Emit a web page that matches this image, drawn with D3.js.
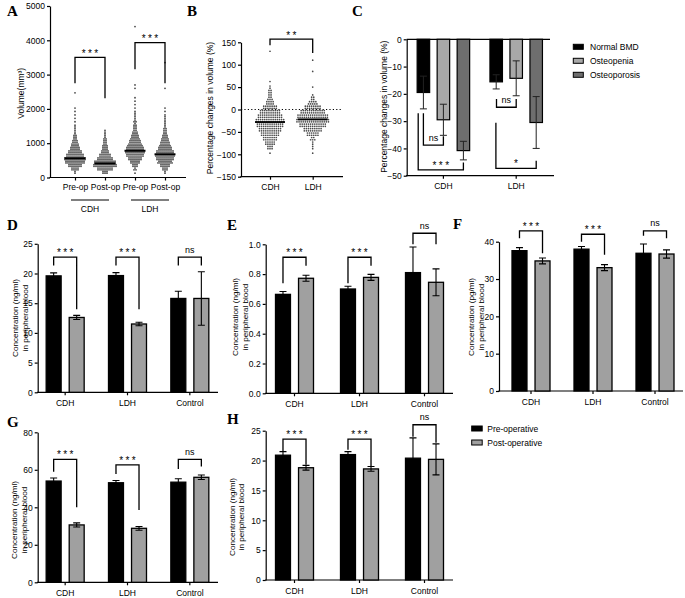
<!DOCTYPE html>
<html><head><meta charset="utf-8">
<script src="https://cdn.jsdelivr.net/npm/d3@7"></script>
<style>
body{margin:0;background:#fff}
svg{display:block}
</style></head><body>
<svg id="c" width="685" height="598"></svg>
<script>
// ================= DATA =================
// Panel A: volume (mm3); dot clouds read as counts per 100-mm3 bin (bin 0 = 0-100) plus sparse outliers
const aCategories = ["Pre-op", "Post-op", "Pre-op", "Post-op"];
const aGroups = ["CDH", "LDH"];
const aCdhPreCounts  = [0,2,8,14,20,22,18,14,10,8,6,4,3,2,2,1,1,1,1,1,1];
const aCdhPostCounts = [0,6,16,24,22,16,12,8,6,5,4,3,2,2];
const aLdhPreCounts  = [0,1,3,6,10,14,18,20,18,15,12,9,7,5,4,3,3,2,2,1,1,1,1,1];
const aLdhPostCounts = [0,2,6,10,15,18,20,18,14,11,9,7,5,4,3,2,2,2,1,1,1];
const aCdhPreOutliers = [2470];
const aCdhPostOutliers = [];
const aLdhPreOutliers = [2600, 2700, 4400];
const aLdhPostOutliers = [2600, 3350];
const aMedians = [560, 410, 780, 675];
const aSigLabels = ["***", "***"];
const aSigLevels = [[3500, 2745, 2310], [3930, 3155, 2745]]; // [bar level, left leg end, right leg end]
const aTicks = [0, 1000, 2000, 3000, 4000, 5000];

// Panel B: percentage change; counts per 10% bin starting at -100
const bCategories = ["CDH", "LDH"];
const bCdhCounts = [1,6,10,14,18,22,26,28,24,20,14,8,5,4,3,1,1];
const bLdhCounts = [1,2,2,5,12,18,26,32,30,24,16,9,4,1];
const bCdhOutliers = [130];
const bLdhOutliers = [50, 85, 110];
const bMedians = [-28, -22];
const bSigLabel = "**";
const bSigLevel = [157, 143.5, 126];
const bTicks = [-150, -100, -50, 0, 50, 100, 150];

// Panel C: percentage change by bone status
const cGroups = ["CDH", "LDH"];
const cSeries = ["Normal BMD", "Osteopenia", "Osteoporosis"];
const cNormal = [-19.5, -15.6];
const cNormalErr = [6.0, 2.6];
const cOsteopenia = [-29.5, -14.3];
const cOsteopeniaErr = [5.7, 6.4];
const cOsteoporosis = [-40.8, -30.5];
const cOsteoporosisErr = [3.4, 9.5];
const cSigLabels = ["ns", "***", "ns", "*"];
const cSigGroups = ["CDH", "CDH", "LDH", "LDH"];
const cSigPairs = [[0, 1], [0, 2], [0, 1], [0, 2]];
const cSigLevels = [[-38.8, -27.1, -35.5], [-47.9, -27.1, -45.2], [-24.9, -21.9, -21.9], [-47.3, -30.6, -44.5]];
const cTicks = [0, -10, -20, -30, -40, -50];

// Panels D-H: blood concentrations, pre vs post
const barGroups = ["CDH", "LDH", "Control"];
const barSeries = ["Pre-operative", "Post-operative"];
const barSigLabels = ["***", "***", "ns"];

const dPre = [19.6, 19.65, 15.8];   const dPreErr = [0.5, 0.5, 1.2];
const dPost = [12.6, 11.5, 15.8];   const dPostErr = [0.35, 0.3, 4.5];
const dSig = [[22.75, 21.35, 14.0], [22.75, 21.35, 14.0], [22.75, 21.35, 21.35]];
const dTicks = [0, 5, 10, 15, 20, 25];

const ePre = [0.664, 0.70, 0.81];   const ePreErr = [0.019, 0.018, 0.172];
const ePost = [0.772, 0.778, 0.745]; const ePostErr = [0.02, 0.02, 0.09];
const eSig = [[0.913, 0.738, 0.856], [0.913, 0.738, 0.856], [1.074, 1.0, 1.0]];
const eTicks = [0, 0.2, 0.4, 0.6, 0.8, 1.0];

const fPre = [37.6, 38.0, 36.9];    const fPreErr = [0.8, 0.7, 2.5];
const fPost = [34.85, 33.05, 36.7]; const fPostErr = [0.8, 0.8, 1.1];
const fSig = [[42.9, 40.9, 36.9], [42.0, 40.0, 36.5], [42.9, 41.6, 40.9]];
const fTicks = [0, 10, 20, 30, 40];

const gPre = [54.0, 53.1, 53.4];    const gPreErr = [1.6, 1.2, 1.8];
const gPost = [30.6, 28.8, 56.0];   const gPostErr = [1.1, 1.0, 1.2];
const gSig = [[65.6, 59.0, 40.0], [62.6, 57.8, 38.6], [65.6, 60.4, 61.7]];
const gTicks = [0, 20, 40, 60, 80];

const hPre = [20.9, 21.0, 20.4];    const hPreErr = [0.6, 0.5, 3.4];
const hPost = [18.8, 18.6, 20.2];   const hPostErr = [0.4, 0.4, 2.6];
const hSig = [[23.6, 21.5, 19.3], [23.6, 21.8, 19.0], [26.0, 24.0, 23.0]];
const hTicks = [0, 5, 10, 15, 20, 25];

// ================= DRAWING =================
const svg = d3.select("#c");
const FONT = '"Liberation Sans", Arial, Helvetica, sans-serif';
const SERIF = '"Liberation Serif", "Times New Roman", serif';
const FS = 8.5;
const GRAY = "#a0a0a0";

function letter(t, x, y) {
  svg.append("text").attr("x", x).attr("y", y).attr("font-family", SERIF)
    .attr("font-weight", "bold").attr("font-size", 15).attr("fill", "#000").text(t);
}
function styleAxis(g) {
  g.selectAll("path,line").attr("stroke", "#000").attr("stroke-width", 1.2);
  g.selectAll("text").attr("font-family", FONT).attr("font-size", FS).attr("fill", "#000");
}
function yAxisLeft(scale, x, ticks, fmt) {
  const g = svg.append("g").attr("transform", `translate(${x},0)`)
    .call(d3.axisLeft(scale).tickValues(ticks).tickSize(3).tickPadding(2).tickSizeOuter(0).tickFormat(fmt));
  styleAxis(g);
  return g;
}
function xAxisBottom(scale, y, x1, x2, pad, fmt) {
  const ax = d3.axisBottom(scale).tickSize(3).tickPadding(pad).tickSizeOuter(0);
  if (fmt) ax.tickFormat(fmt);
  const g = svg.append("g").attr("transform", `translate(0,${y})`).call(ax);
  g.select(".domain").remove();
  styleAxis(g);
  svg.append("line").attr("x1", x1 - 0.6).attr("x2", x2).attr("y1", y).attr("y2", y)
    .attr("stroke", "#000").attr("stroke-width", 1.2);
}
function vTitle(lines, xs, cy, fs) {
  lines.forEach((l, i) => {
    svg.append("text").attr("transform", `translate(${xs[i]},${cy}) rotate(-90)`)
      .attr("text-anchor", "middle").attr("dy", "0.35em").attr("font-family", FONT)
      .attr("font-size", fs || FS).attr("fill", "#000").text(l);
  });
}
function sigText(label, x, yLine) {
  const star = label !== "ns";
  svg.append("text").attr("x", x + (star ? 1.2 : 0)).attr("y", yLine - (star ? 1.2 : 4.6))
    .attr("text-anchor", "middle").attr("font-family", FONT)
    .attr("font-size", star ? 10 : 9).attr("letter-spacing", star ? 2.4 : 0)
    .attr("fill", "#000").text(label);
}
function bracketPath(x1, x2, yLevel, y1, y2) {
  svg.append("path").attr("d", `M${x1},${y1}V${yLevel}H${x2}V${y2}`)
    .attr("fill", "none").attr("stroke", "#000").attr("stroke-width", 1.3);
}
function swarm(counts, outliers, start, binW, cx, yS, R, sp, r, fill) {
  const pts = [];
  counts.forEach((n, i) => {
    const lo = start + i * binW;
    for (let row = 0; row < R; row++) {
      const m = Math.ceil((n - row) / R);
      if (m <= 0) continue;
      const v = lo + (row + 0.5) / R * binW;
      for (let j = 0; j < m; j++) pts.push([cx + (j - (m - 1) / 2) * sp, yS(v)]);
    }
  });
  outliers.forEach(v => pts.push([cx, yS(v)]));
  svg.append("g").selectAll("circle").data(pts).join("circle")
    .attr("cx", d => d[0]).attr("cy", d => d[1]).attr("r", r).attr("fill", fill);
}

// ---------- Panel A ----------
(function () {
  const y = d3.scaleLinear().domain([0, 5000]).range([177.5, 6]);
  const x = d3.scalePoint().domain([0, 1, 2, 3]).range([75, 165]);
  letter("A", 7, 15.5);
  yAxisLeft(y, 50, aTicks, d3.format("d"));
  xAxisBottom(x, 177.5, 50, 186, 3.5, i => aCategories[i]);
  vTitle(["Volume(mm³)"], [21.5], 93.3);
  const clouds = [[aCdhPreCounts, aCdhPreOutliers], [aCdhPostCounts, aCdhPostOutliers],
                  [aLdhPreCounts, aLdhPreOutliers], [aLdhPostCounts, aLdhPostOutliers]];
  clouds.forEach((c, i) => swarm(c[0], c[1], 0, 100, x(i), y, 2, 2.0, 0.9, "#4a4a4a"));
  aMedians.forEach((m, i) => svg.append("line").attr("x1", x(i) - 10.5).attr("x2", x(i) + 10.5)
    .attr("y1", y(m)).attr("y2", y(m)).attr("stroke", "#000").attr("stroke-width", 2));
  aSigLevels.forEach((s, k) => {
    const x1 = x(2 * k), x2 = x(2 * k + 1);
    bracketPath(x1, x2, y(s[0]), y(s[1]), y(s[2]));
    sigText(aSigLabels[k], (x1 + x2) / 2, y(s[0]) + 0.8);
  });
  aGroups.forEach((g, k) => {
    const c = (x(2 * k) + x(2 * k + 1)) / 2;
    svg.append("line").attr("x1", c - 19).attr("x2", c + 19).attr("y1", 200).attr("y2", 200)
      .attr("stroke", "#000").attr("stroke-width", 1.2);
    svg.append("text").attr("x", c).attr("y", 211.5).attr("text-anchor", "middle")
      .attr("font-family", FONT).attr("font-size", FS).attr("fill", "#000").text(g);
  });
})();

// ---------- Panel B ----------
(function () {
  const y = d3.scaleLinear().domain([-150, 150]).range([176.7, 42.3]);
  const x = d3.scalePoint().domain(bCategories).range([270, 312.7]);
  letter("B", 187, 15.5);
  yAxisLeft(y, 241, bTicks, d3.format("d"));
  xAxisBottom(x, 176.7, 241, 343, 4.3);
  vTitle(["Percentage changes in volume (%)"], [210.5], 108);
  svg.append("line").attr("x1", 241).attr("x2", 343).attr("y1", y(0)).attr("y2", y(0))
    .attr("stroke", "#000").attr("stroke-width", 1).attr("stroke-dasharray", "1.2,2.2");
  swarm(bCdhCounts, bCdhOutliers, -100, 10, x("CDH"), y, 2, 2.1, 0.85, "#4a4a4a");
  swarm(bLdhCounts, bLdhOutliers, -100, 10, x("LDH"), y, 2, 2.1, 0.85, "#4a4a4a");
  bMedians.forEach((m, i) => {
    const cx = x(bCategories[i]);
    svg.append("line").attr("x1", cx - 15).attr("x2", cx + 15).attr("y1", y(m)).attr("y2", y(m))
      .attr("stroke", "#000").attr("stroke-width", 1.8);
  });
  bracketPath(x("CDH"), x("LDH"), y(bSigLevel[0]), y(bSigLevel[1]), y(bSigLevel[2]));
  sigText(bSigLabel, (x("CDH") + x("LDH")) / 2, y(bSigLevel[0]) + 0.8);
})();

// ---------- Panel C ----------
(function () {
  const y = d3.scaleLinear().domain([-50, 0]).range([175.7, 39.3]);
  const x = d3.scaleBand().domain(cGroups).range([407, 552.6]);
  const sub = d3.scaleBand().domain(cSeries).range([-26.25, 26.25]).paddingInner(0.375);
  const colors = ["#000000", "#a8a8a8", "#6e6e6e"];
  const vals = [cNormal, cOsteopenia, cOsteoporosis];
  const errs = [cNormalErr, cOsteopeniaErr, cOsteoporosisErr];
  const cxOf = (g, s) => x(g) + x.bandwidth() / 2 + sub(cSeries[s]) + sub.bandwidth() / 2;
  letter("C", 352, 15.5);
  yAxisLeft(y, 406.7, cTicks, d3.format("d"));
  xAxisBottom(x, 175.7, 406.7, 554, 3.8);
  svg.append("line").attr("x1", 406.7).attr("x2", 550).attr("y1", y(0)).attr("y2", y(0))
    .attr("stroke", "#000").attr("stroke-width", 1.2);
  vTitle(["Percentage changes in volume (%)"], [384.5], 106.7);
  const bw = sub.bandwidth();
  cSeries.forEach((s, si) => {
    cGroups.forEach((g, gi) => {
      const v = vals[si][gi], e = errs[si][gi], cx = cxOf(g, si);
      svg.append("rect").attr("x", cx - bw / 2).attr("y", y(0)).attr("width", bw)
        .attr("height", y(v) - y(0)).attr("fill", colors[si]).attr("stroke", "#000").attr("stroke-width", 1.2);
      svg.append("path").attr("d", `M${cx},${y(v - e)}V${y(v + e)}M${cx - 3.5},${y(v - e)}H${cx + 3.5}M${cx - 3.5},${y(v + e)}H${cx + 3.5}`)
        .attr("fill", "none").attr("stroke", "#222").attr("stroke-width", 1);
    });
  });
  const nudge = [0, -5.2, 0.3, -0.3];
  cSigLevels.forEach((s, k) => {
    const g = cSigGroups[k];
    const x1 = cxOf(g, cSigPairs[k][0]) + nudge[k], x2 = cxOf(g, cSigPairs[k][1]);
    bracketPath(x1, x2, y(s[0]), y(s[1]), y(s[2]));
    sigText(cSigLabels[k], (x1 + x2) / 2, y(s[0]));
  });
  // legend
  cSeries.forEach((s, i) => {
    const yy = 44.3 + i * 14;
    svg.append("rect").attr("x", 573.3).attr("y", yy).attr("width", 10).attr("height", 5)
      .attr("fill", colors[i]).attr("stroke", "#000").attr("stroke-width", 1);
    svg.append("text").attr("x", 590).attr("y", yy + 5.6).attr("font-family", FONT)
      .attr("font-size", FS).attr("fill", "#000").text(s);
  });
})();

// ---------- Panels D-H ----------
function barPanel(p) {
  const x = d3.scaleBand().domain(barGroups).range(p.band);
  const sub = d3.scaleBand().domain(barSeries).range([-19, 19]).paddingInner(0.35);
  const y = d3.scaleLinear().domain([0, p.max]).range([p.y0, p.y1]);
  const bw = sub.bandwidth();
  const cxOf = (g, s) => x(g) + x.bandwidth() / 2 + sub(s) + bw / 2;
  letter(p.letter, p.lx, p.ly);
  yAxisLeft(y, p.ax, p.ticks, p.fmt);
  xAxisBottom(x, p.y0, p.ax, p.axEnd, 4.5);
  vTitle(p.title, p.tx, p.ty, 8.1);
  const sets = [[p.pre, p.preErr, "#000"], [p.post, p.postErr, GRAY]];
  sets.forEach((st, si) => {
    barGroups.forEach((g, gi) => {
      const v = st[0][gi], e = st[1][gi], cx = cxOf(g, barSeries[si]);
      svg.append("rect").attr("x", cx - bw / 2).attr("y", y(v)).attr("width", bw)
        .attr("height", p.y0 - y(v)).attr("fill", st[2]).attr("stroke", "#000").attr("stroke-width", 1.3);
      svg.append("path").attr("d", `M${cx},${y(v - e)}V${y(v + e)}M${cx - 3.5},${y(v - e)}H${cx + 3.5}M${cx - 3.5},${y(v + e)}H${cx + 3.5}`)
        .attr("fill", "none").attr("stroke", "#000").attr("stroke-width", 1.1);
    });
  });
  p.sig.forEach((s, k) => {
    const g = barGroups[k];
    const x1 = cxOf(g, barSeries[0]), x2 = cxOf(g, barSeries[1]);
    bracketPath(x1, x2, y(s[0]), y(s[1]), y(s[2]));
    sigText(barSigLabels[k], (x1 + x2) / 2, y(s[0]));
  });
}
const ngTitle = ["Concentration (ng/ml)", "in peripheral blood"];
barPanel({letter: "D", lx: 7, ly: 229.5, band: [34, 221], y0: 392.3, y1: 243.8, max: 25, ax: 37.7, axEnd: 218,
  ticks: dTicks, fmt: d3.format("d"), title: ngTitle, tx: [15.5, 25], ty: 318,
  pre: dPre, preErr: dPreErr, post: dPost, postErr: dPostErr, sig: dSig});
barPanel({letter: "E", lx: 227, ly: 229.5, band: [262, 457], y0: 393.3, y1: 244.3, max: 1.0, ax: 265.7, axEnd: 453,
  ticks: eTicks, fmt: d3.format(".1f"), title: ngTitle, tx: [235.5, 245], ty: 317,
  pre: ePre, preErr: ePreErr, post: ePost, postErr: ePostErr, sig: eSig});
barPanel({letter: "F", lx: 453, ly: 228.5, band: [500, 686], y0: 391, y1: 241.7, max: 40, ax: 499, axEnd: 683,
  ticks: fTicks, fmt: d3.format("d"), title: ["Concentration (pg/ml)", "in peripheral blood"], tx: [471.5, 481], ty: 317,
  pre: fPre, preErr: fPreErr, post: fPost, postErr: fPostErr, sig: fSig});
barPanel({letter: "G", lx: 7, ly: 427, band: [34, 221], y0: 582.3, y1: 432.3, max: 80, ax: 37.7, axEnd: 218,
  ticks: gTicks, fmt: d3.format("d"), title: ngTitle, tx: [14.5, 24], ty: 520,
  pre: gPre, preErr: gPreErr, post: gPost, postErr: gPostErr, sig: gSig});
barPanel({letter: "H", lx: 227, ly: 423.5, band: [262, 457], y0: 580, y1: 430.7, max: 25, ax: 265.7, axEnd: 453,
  ticks: hTicks, fmt: d3.format("d"), title: ngTitle, tx: [232, 241.5], ty: 517,
  pre: hPre, preErr: hPreErr, post: hPost, postErr: hPostErr, sig: hSig});

// legend D-H
[["#000", 426], [GRAY, 440]].forEach((d, i) => {
  svg.append("rect").attr("x", 471.7).attr("y", d[1]).attr("width", 10.5).attr("height", 5)
    .attr("fill", d[0]).attr("stroke", "#000").attr("stroke-width", 1);
  svg.append("text").attr("x", 487.3).attr("y", d[1] + 5.6).attr("font-family", FONT)
    .attr("font-size", FS).attr("fill", "#000").text(barSeries[i]);
});
</script>
</body></html>
